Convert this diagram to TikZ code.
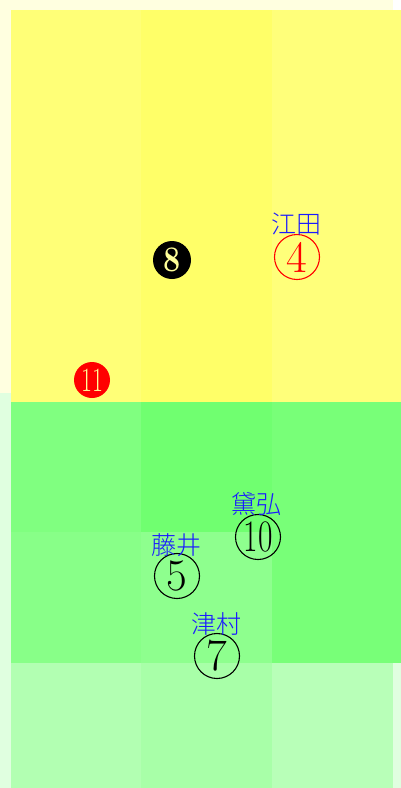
\documentclass[tikz,border=0pt]{standalone}
\usepackage{fontspec}
\newfontfamily\cjk{Noto Sans CJK JP Light}
\definecolor{bgyel}{HTML}{FFFFE0}
\definecolor{bggrn}{HTML}{E0FFE0}
\definecolor{yelA}{HTML}{FFFF77}
\definecolor{yelB}{HTML}{FFFF68}
\definecolor{yelC}{HTML}{FFFF7A}
\definecolor{grA}{HTML}{80FF80}
\definecolor{grB}{HTML}{70FF70}
\definecolor{grC}{HTML}{78FF78}
\definecolor{grD}{HTML}{88FF88}
\definecolor{grE}{HTML}{8EFF8E}
\definecolor{grF}{HTML}{B2FFB2}
\definecolor{grG}{HTML}{A8FFA8}
\definecolor{grH}{HTML}{B8FFB8}
\definecolor{lblblue}{HTML}{1A1AFF}
\definecolor{pale}{HTML}{FFFF99}
\begin{document}
\begin{tikzpicture}[x=1pt,y=-1pt,
  circnum/.style={circle, draw, line width=1.1pt, minimum size=45pt, inner sep=0pt,
    font=\fontsize{45}{45}\selectfont},
  fillnum/.style={circle, inner sep=0pt},
  namelbl/.style={text=lblblue, inner sep=0pt, font=\cjk\fontsize{25}{25}\selectfont}]
\useasboundingbox (0,0) rectangle (401,788);
% backgrounds
\fill[bgyel] (0,0) rectangle (393,393);
\fill[bggrn] (0,393) rectangle (401,788);
% yellow area
\fill[yelA] (11,10) rectangle (141,402);
\fill[yelB] (141,10) rectangle (272,402);
\fill[yelC] (272,10) rectangle (401,402);
% green area
\fill[grA] (11,402) rectangle (141,532);
\fill[grB] (141,402) rectangle (272,532);
\fill[grC] (272,402) rectangle (401,663);
\fill[grD] (11,532) rectangle (141,663);
\fill[grE] (141,532) rectangle (272,663);
\fill[grF] (11,663) rectangle (141,788);
\fill[grG] (141,663) rectangle (272,788);
\fill[grH] (272,663) rectangle (393,788);
% nodes
\node[fillnum, fill=black, minimum size=38pt, text=pale,
  font=\bfseries\fontsize{36}{36}\selectfont] (n8) at (172,260) {\scalebox{0.85}[1]{8}};
\node[fillnum, fill=red, minimum size=36pt, text=pale,
  font=\fontsize{34}{34}\selectfont] (n11) at (92,380) {\scalebox{0.7}[1]{11}};
\node[circnum, draw=red, text=red] (n4) at (297,257) {4};
\node[namelbl] (l4) at (296,224) {江田};
\node[circnum] (n10) at (258,537) {\scalebox{0.7}[1]{10}};
\node[namelbl] (l10) at (256,504) {黛弘};
\node[circnum] (n5) at (177,576) {5};
\node[namelbl] (l5) at (176,545) {藤井};
\node[circnum] (n7) at (217,656) {7};
\node[namelbl] (l7) at (216,624) {津村};
\end{tikzpicture}
\end{document}
